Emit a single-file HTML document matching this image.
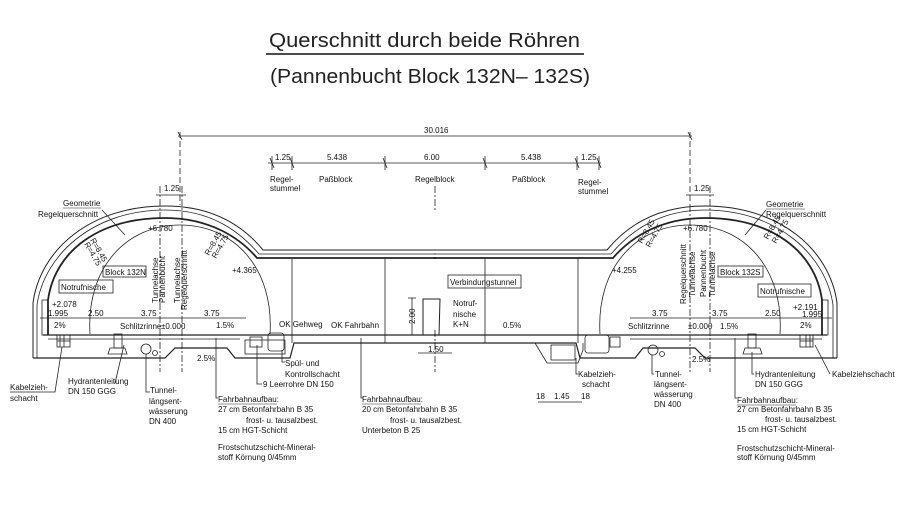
<!DOCTYPE html>
<html><head><meta charset="utf-8"><style>
html,body{margin:0;padding:0;background:#fff}
svg{display:block}
text{font-family:"Liberation Sans",sans-serif;fill:#111;font-size:8px}
.t{font-size:20px;fill:#222}
</style></head><body>
<svg width="900" height="518" viewBox="0 0 900 518" xmlns="http://www.w3.org/2000/svg">
<rect width="900" height="518" fill="#fff"/>
<!-- Title -->
<text class="t" x="269" y="47" textLength="311" lengthAdjust="spacingAndGlyphs">Querschnitt durch beide Röhren</text>
<line x1="266" y1="54" x2="584" y2="54" stroke="#111" stroke-width="1.5"/>
<text class="t" x="270" y="83" textLength="320" lengthAdjust="spacingAndGlyphs">(Pannenbucht Block 132N– 132S)</text>

<g stroke="#222" fill="none" stroke-width="0.8">
<!-- overall dims -->
<line x1="178" y1="136" x2="692" y2="136"/>
<line x1="180" y1="132" x2="180" y2="205" stroke-dasharray="6,3"/>
<line x1="690" y1="132" x2="690" y2="205" stroke-dasharray="6,3"/>
<line x1="268" y1="163" x2="601" y2="163"/>
<line x1="270" y1="158" x2="274" y2="168"/><line x1="290" y1="158" x2="294" y2="168"/>
<line x1="383" y1="158" x2="387" y2="168"/><line x1="483" y1="158" x2="487" y2="168"/>
<line x1="575" y1="158" x2="579" y2="168"/><line x1="597" y1="158" x2="601" y2="168"/>
<line x1="178" y1="132" x2="182" y2="140"/><line x1="688" y1="132" x2="692" y2="140"/>
<line x1="272" y1="156" x2="272" y2="170"/><line x1="292" y1="156" x2="292" y2="170"/>
<line x1="385" y1="156" x2="385" y2="170"/><line x1="485" y1="156" x2="485" y2="170"/>
<line x1="577" y1="156" x2="577" y2="170"/><line x1="599" y1="156" x2="599" y2="170"/>

<line x1="156" y1="195" x2="186" y2="195"/>
<line x1="686" y1="195" x2="714" y2="195"/>

<g stroke-dasharray="7,2,2,2">
<line x1="160" y1="186" x2="160" y2="372"/>
<line x1="182" y1="186" x2="182" y2="372"/>
<line x1="690" y1="205" x2="690" y2="372"/>
<line x1="710" y1="186" x2="710" y2="372"/>
<line x1="435" y1="186" x2="435" y2="210"/>
<line x1="435" y1="330" x2="435" y2="372"/>
</g>

<g id="sh">
<path d="M33,358 L33,303 C40,250 90,206 165,206 C215,206 245,228 263,250 L436,250" stroke-width="1"/>
<path d="M37,358 L37,305 C44,255 93,210 165,210 C212,210 240,232 259,254 L436,254" stroke-width="0.8"/>
<path d="M48,335 L48,300 C55,250 100,218 165,218 C210,218 240,238 257,258 L436,258" stroke-width="1.8"/>
<path d="M90,334 C86,268 126,225 180,225 C234,225 274,268 270,334" stroke-width="0.8"/>
<path d="M33,358 L165,358 L175,348 L227,348 L235,358 L290,358 L294,343 L436,343" stroke-width="1.2"/>
<line x1="43" y1="335" x2="436" y2="335" stroke-width="1.2"/>
<line x1="48" y1="339" x2="240" y2="339"/>
<rect x="42" y="300" width="6" height="35"/>
<rect x="57" y="335" width="13" height="12"/>
<line x1="60" y1="335" x2="60" y2="347"/><line x1="64" y1="335" x2="64" y2="347"/><line x1="57" y1="341" x2="70" y2="341"/>
<rect x="114" y="334" width="8" height="14"/>
<path d="M110,348 L125,348 L127,354 L108,354Z"/>
<line x1="292" y1="258" x2="292" y2="343"/>
<line x1="385" y1="258" x2="385" y2="343"/>
</g>
<use href="#sh" transform="matrix(-1,0,0,1,870,0)"/>

<path d="M423,335 L423,299 L440,299 L439,335" stroke-width="1"/>
<line x1="412" y1="298" x2="412" y2="335"/><line x1="408" y1="298" x2="416" y2="298"/>
<line x1="418" y1="353" x2="452" y2="353"/>
<path d="M535,343 L547,363 L578,363 L583,350 L583,343"/>
<rect x="551" y="345" width="24" height="15"/>
<rect x="245" y="340" width="40" height="14"/>
<rect x="250" y="337" width="12" height="10"/>
<rect x="268" y="333" width="16" height="18" rx="3"/>
<rect x="585" y="335" width="24" height="18" rx="3"/>
<rect x="610" y="337" width="10" height="10"/>
<circle cx="146" cy="349" r="5"/><circle cx="155" cy="353" r="2.5"/>
<circle cx="653" cy="350" r="5"/><circle cx="662" cy="354" r="2.5"/>

<line x1="40" y1="318" x2="246" y2="318"/>
<line x1="630" y1="318" x2="832" y2="318"/>
<line x1="538" y1="402" x2="582" y2="402"/>

<path d="M62,347 L55,392 L10,392"/>
<path d="M124,345 L115,383"/>
<path d="M146,354 L146,392 L150,392"/>
<path d="M216,338 L216,398 L218,398"/>
<path d="M361,338 L361,398 L363,398"/>
<path d="M257,345 L257,384 L262,384"/>
<path d="M282,350 L282,362 L285,362"/>
<path d="M576,358 L576,374 L578,374"/>
<path d="M652,355 L652,374 L654,374"/>
<path d="M752,352 L752,374 L754,374"/>
<path d="M815,345 L830,374"/>
<path d="M735,338 L735,398 L737,398"/>
<path d="M102,210 L125,235"/><path d="M766,210 L745,235"/>
</g>

<text x="424" y="133" font-size="7.5">30.016</text>
<text x="275" y="160">1.25</text><text x="327" y="160">5.438</text><text x="424" y="160">6.00</text><text x="521" y="160">5.438</text><text x="581" y="160">1.25</text>
<text x="270" y="182">Regel-</text><text x="270" y="191">stummel</text>
<text x="319" y="182">Paßblock</text><text x="415" y="182">Regelblock</text><text x="512" y="182">Paßblock</text>
<text x="578" y="185">Regel-</text><text x="578" y="194">stummel</text>
<text x="164" y="191">1.25</text><text x="694" y="191">1.25</text>

<text x="63" y="206">Geometrie</text><line x1="63" y1="208" x2="101" y2="208" stroke="#222" stroke-width="0.6"/>
<text x="38" y="217">Regelquerschnitt</text>
<text x="148" y="231">+6.780</text>
<text x="232" y="273">+4.365</text>
<text x="90" y="240" transform="rotate(60 90 240)" font-size="7">R=8.45</text>
<text x="84" y="244" transform="rotate(60 84 244)" font-size="7">R=4.75</text>
<text x="209" y="256" transform="rotate(-60 209 256)" font-size="7">R=8.45</text>
<text x="216" y="259" transform="rotate(-60 216 259)" font-size="7">R=4.75</text>
<rect x="103" y="266" width="43" height="11" fill="none" stroke="#222" stroke-width="0.8"/><text x="105" y="275">Block 132N</text>
<rect x="59" y="280" width="54" height="13" fill="none" stroke="#222" stroke-width="0.8"/><text x="61" y="290">Notrufnische</text>
<text transform="translate(158,303) rotate(-90)">Tunnelachse</text>
<text transform="translate(165,303) rotate(-90)">Pannenbucht</text>
<text transform="translate(180,303) rotate(-90)">Tunnelachse</text>
<text transform="translate(187,310) rotate(-90)">Regelquerschnitt</text>
<text x="52" y="307">+2.078</text>
<text x="48" y="316">1.995</text><text x="88" y="316">2.50</text><text x="141" y="316">3.75</text><text x="204" y="316">3.75</text>
<text x="54" y="328">2%</text><text x="120" y="329">Schlitzrinne</text><text x="161" y="329">±0.000</text><text x="216" y="328">1.5%</text>
<text x="279" y="327">OK Gehweg</text><text x="331" y="328">OK Fahrbahn</text>
<text x="197" y="361">2.5%</text>
<text transform="translate(415,324) rotate(-90)">2.00</text>
<rect x="448" y="275" width="73" height="13" fill="none" stroke="#222" stroke-width="0.8"/><text x="450" y="285">Verbindungstunnel</text>
<text x="453" y="306">Notruf-</text><text x="453" y="317">nische</text><text x="453" y="327">K+N</text>
<text x="503" y="328">0.5%</text>
<text x="428" y="352">1.50</text>

<text x="766" y="207">Geometrie</text><line x1="766" y1="209" x2="805" y2="209" stroke="#222" stroke-width="0.6"/>
<text x="766" y="217">Regelquerschnitt</text>
<text x="683" y="231">+6.780</text>
<text x="612" y="273">+4.255</text>
<text x="642" y="244" transform="rotate(-60 642 244)" font-size="7">R=8.45</text>
<text x="650" y="248" transform="rotate(-60 650 248)" font-size="7">R=4.75</text>
<text x="768" y="240" transform="rotate(-60 768 240)" font-size="7">R=8.45</text>
<text x="776" y="244" transform="rotate(-60 776 244)" font-size="7">R=4.75</text>
<text transform="translate(686,304) rotate(-90)">Regelquerschnitt</text>
<text transform="translate(695,297) rotate(-90)">Tunnelachse</text>
<text transform="translate(706,297) rotate(-90)">Pannenbucht</text>
<text transform="translate(715,297) rotate(-90)">Tunnelachse</text>
<rect x="718" y="266" width="45" height="11" fill="none" stroke="#222" stroke-width="0.8"/><text x="720" y="275">Block 132S</text>
<rect x="758" y="284" width="53" height="13" fill="none" stroke="#222" stroke-width="0.8"/><text x="760" y="294">Notrufnische</text>
<text x="793" y="310">+2.191</text>
<text x="652" y="316">3.75</text><text x="712" y="316">3.75</text><text x="765" y="316">2.50</text><text x="802" y="317">1.995</text>
<text x="628" y="329">Schlitzrinne</text><text x="688" y="329">±0.000</text><text x="720" y="329">1.5%</text><text x="800" y="328">2%</text>
<text x="692" y="362">2.5%</text>

<text x="10" y="390">Kabelzieh-</text><text x="10" y="401">schacht</text>
<text x="68" y="384">Hydrantenleitung</text><text x="68" y="394">DN 150 GGG</text>
<text x="150" y="393">Tunnel-</text><text x="149" y="404">längsent-</text><text x="149" y="414">wässerung</text><text x="149" y="424">DN 400</text>
<text x="285" y="366">Spül- und</text><text x="285" y="377">Kontrollschacht</text>
<text x="263" y="387">9 Leerrohre DN 150</text>
<text x="218" y="402">Fahrbahnaufbau:</text><line x1="218" y1="404" x2="277" y2="404" stroke="#222" stroke-width="0.6"/>
<text x="218" y="412">27 cm Betonfahrbahn B 35</text><text x="246" y="423">frost- u. tausalzbest.</text><text x="218" y="433">15 cm HGT-Schicht</text>
<text x="218" y="450">Frostschutzschicht-Mineral-</text><text x="218" y="460">stoff Körnung 0/45mm</text>
<text x="362" y="402">Fahrbahnaufbau:</text><line x1="362" y1="404" x2="421" y2="404" stroke="#222" stroke-width="0.6"/>
<text x="362" y="412">20 cm Betonfahrbahn B 35</text><text x="390" y="423">frost- u. tausalzbest.</text><text x="362" y="433">Unterbeton B 25</text>
<text x="578" y="377">Kabelzieh-</text><text x="582" y="387">schacht</text>
<text x="536" y="399" font-size="7">18</text><text x="554" y="399">1.45</text><text x="581" y="399" font-size="7">18</text>
<text x="655" y="377">Tunnel-</text><text x="654" y="387">längsent-</text><text x="654" y="397">wässerung</text><text x="654" y="407">DN 400</text>
<text x="755" y="377">Hydrantenleitung</text><text x="755" y="387">DN 150 GGG</text>
<text x="832" y="377">Kabelziehschacht</text>
<text x="737" y="403">Fahrbahnaufbau:</text><line x1="737" y1="405" x2="796" y2="405" stroke="#222" stroke-width="0.6"/>
<text x="737" y="412">27 cm Betonfahrbahn B 35</text><text x="765" y="422">frost- u. tausalzbest.</text><text x="737" y="432">15 cm HGT-Schicht</text>
<text x="737" y="451">Frostschutzschicht-Mineral-</text><text x="737" y="460">stoff Körnung 0/45mm</text>
</svg>
</body></html>
